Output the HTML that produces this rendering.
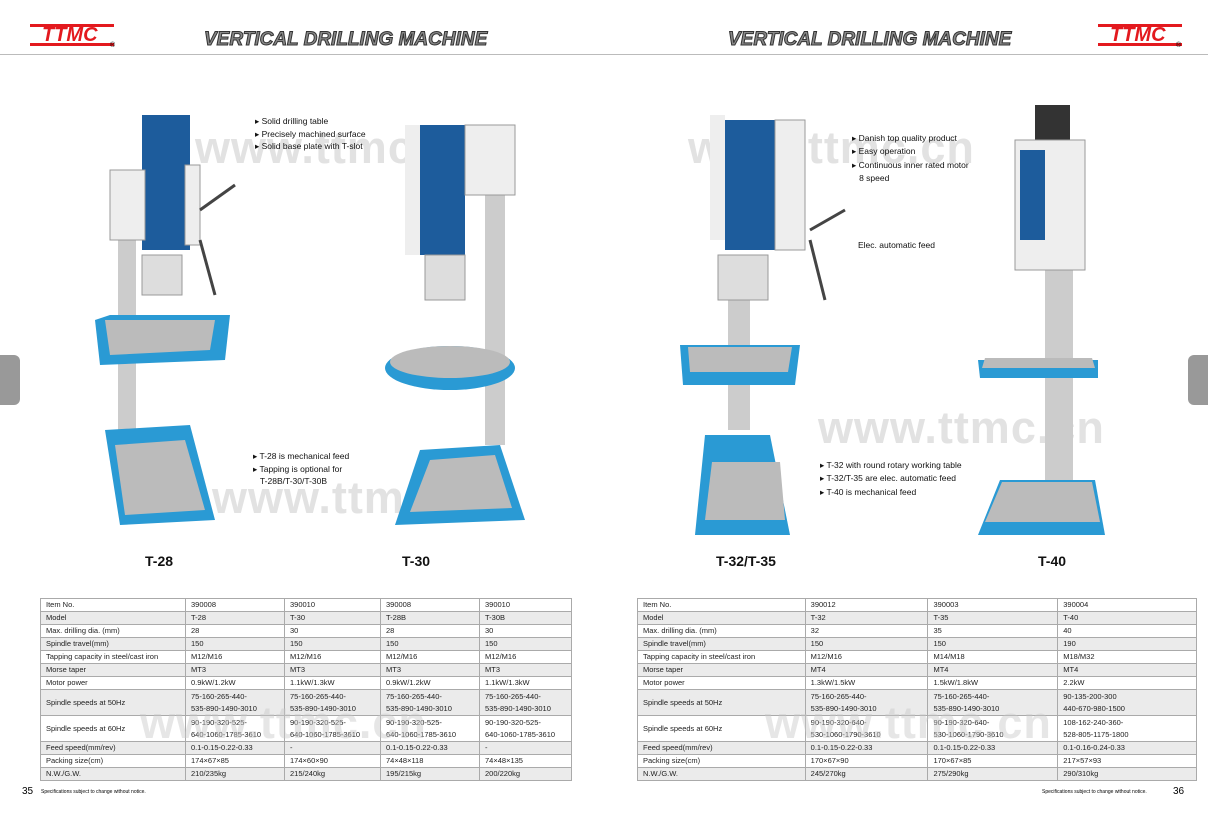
<!DOCTYPE html>
<html><head><meta charset="utf-8"><style>
body{margin:0;width:1208px;height:825px;background:#fff;position:relative;overflow:hidden;font-family:"Liberation Sans",sans-serif;}
.a{position:absolute}
.logo{position:absolute;font:italic 900 20px "Liberation Sans",sans-serif;color:#e3191e;letter-spacing:0px}
.bar{position:absolute;height:3px;background:#e3191e}
.title{position:absolute;font:italic 900 19px "Liberation Sans",sans-serif;color:#888;-webkit-text-stroke:1px #333;letter-spacing:0px}
.wm{position:absolute;font:bold 45px "Liberation Sans",sans-serif;color:#e2e2e2;letter-spacing:1px}
.note{position:absolute;font-size:8.5px;color:#111;line-height:12.5px}
.lbl{position:absolute;font:bold 14px "Liberation Sans",sans-serif;color:#111}
table{position:absolute;border-collapse:collapse;font-size:7.5px;color:#222}
td{border:1px solid #aaa;padding:0 5px;height:12px;line-height:12px;vertical-align:middle}
tr:nth-child(even) td{background:#ebebeb}
.d td{height:25px}
</style></head><body>
<div class="bar" style="left:30px;top:24px;width:84px"></div>
<div class="logo" style="left:42px;top:24px">TTMC</div>
<div class="bar" style="left:30px;top:43px;width:84px"></div>
<div class="a" style="left:110px;top:42px;font-size:7px">®</div>
<div class="title" style="left:204px;top:29px">VERTICAL DRILLING MACHINE</div>
<div class="title" style="left:728px;top:29px">VERTICAL DRILLING MACHINE</div>
<div class="bar" style="left:1098px;top:24px;width:84px"></div>
<div class="logo" style="left:1110px;top:24px">TTMC</div>
<div class="bar" style="left:1098px;top:43px;width:84px"></div>
<div class="a" style="left:1176px;top:42px;font-size:7px">®</div>
<div class="a" style="left:0;top:54px;width:1208px;height:1px;background:#bbb"></div>
<div class="a" style="left:0;top:355px;width:20px;height:50px;background:#999;border-radius:0 6px 6px 0"></div>
<div class="a" style="left:1188px;top:355px;width:20px;height:50px;background:#999;border-radius:6px 0 0 6px"></div>
<div class="wm" style="left:195px;top:122px">www.ttmc.cn</div>
<div class="wm" style="left:688px;top:122px">www.ttmc.cn</div>
<div class="wm" style="left:818px;top:402px">www.ttmc.cn</div>
<div class="wm" style="left:212px;top:472px">www.ttmc.cn</div>
<svg class="a" style="left:0;top:0" width="1208" height="580">
<rect x="118" y="240" width="18" height="200" fill="#ccc"/>
<rect x="142" y="115" width="48" height="135" fill="#1d5c9c"/>
<rect x="110" y="170" width="35" height="70" fill="#eee" stroke="#999"/>
<rect x="185" y="165" width="15" height="80" fill="#eee" stroke="#999"/>
<rect x="142" y="255" width="40" height="40" fill="#ddd" stroke="#999"/>
<polygon points="95,320 110,315 230,315 225,360 100,365" fill="#2a9ad4"/>
<polygon points="105,320 215,320 210,350 110,355" fill="#bbb"/>
<polygon points="105,430 190,425 215,520 120,525" fill="#2a9ad4"/>
<polygon points="115,445 185,440 205,510 125,515" fill="#bbb"/>
<line x1="200" y1="210" x2="235" y2="185" stroke="#444" stroke-width="3"/>
<line x1="200" y1="240" x2="215" y2="295" stroke="#444" stroke-width="3"/>
<rect x="485" y="185" width="20" height="260" fill="#ccc"/>
<rect x="420" y="125" width="45" height="130" fill="#1d5c9c"/>
<rect x="405" y="125" width="15" height="130" fill="#eee"/>
<rect x="465" y="125" width="50" height="70" fill="#eee" stroke="#999"/>
<rect x="425" y="255" width="40" height="45" fill="#ddd" stroke="#999"/>
<ellipse cx="450" cy="368" rx="65" ry="22" fill="#2a9ad4"/>
<ellipse cx="450" cy="362" rx="60" ry="16" fill="#bbb"/>
<polygon points="420,450 500,445 525,520 395,525" fill="#2a9ad4"/>
<polygon points="430,460 495,455 512,508 410,512" fill="#bbb"/>
<rect x="728" y="290" width="22" height="140" fill="#ccc"/>
<rect x="725" y="120" width="50" height="130" fill="#1d5c9c"/>
<rect x="710" y="115" width="15" height="125" fill="#eee"/>
<rect x="775" y="120" width="30" height="130" fill="#eee" stroke="#999"/>
<rect x="718" y="255" width="50" height="45" fill="#ddd" stroke="#999"/>
<polygon points="680,345 800,345 795,385 683,385" fill="#2a9ad4"/>
<polygon points="688,347 792,347 788,372 690,372" fill="#bbb"/>
<polygon points="705,435 770,435 790,535 695,535" fill="#2a9ad4"/>
<polygon points="712,462 780,462 785,520 705,520" fill="#bbb"/>
<line x1="810" y1="230" x2="845" y2="210" stroke="#444" stroke-width="3"/>
<line x1="810" y1="240" x2="825" y2="300" stroke="#444" stroke-width="3"/>
<rect x="1035" y="105" width="35" height="35" fill="#333"/>
<rect x="1045" y="250" width="28" height="230" fill="#ccc"/>
<rect x="1015" y="140" width="70" height="130" fill="#eee" stroke="#999"/>
<rect x="1020" y="150" width="25" height="90" fill="#1d5c9c"/>
<polygon points="978,360 1098,360 1098,378 980,378" fill="#2a9ad4"/>
<polygon points="985,358 1092,358 1095,368 982,368" fill="#bbb"/>
<polygon points="1000,480 1095,480 1105,535 978,535" fill="#2a9ad4"/>
<polygon points="1002,482 1092,482 1100,522 985,522" fill="#bbb"/>
</svg>
<div class="note" style="left:255px;top:115px">▸ Solid drilling table<br>▸ Precisely machined surface<br>▸ Solid base plate with T-slot</div>
<div class="note" style="left:253px;top:450px">▸ T-28 is mechanical feed<br>▸ Tapping is optional for<br>&nbsp;&nbsp; T-28B/T-30/T-30B</div>
<div class="note" style="left:852px;top:132px;line-height:13.3px">▸ Danish top quality product<br>▸ Easy operation<br>▸ Continuous inner rated motor<br>&nbsp;&nbsp; 8 speed</div>
<div class="note" style="left:858px;top:239px">Elec. automatic feed</div>
<div class="note" style="left:820px;top:459px;line-height:13.3px">▸ T-32 with round rotary working table<br>▸ T-32/T-35 are elec. automatic feed<br>▸ T-40 is mechanical feed</div>
<div class="lbl" style="left:145px;top:553px">T-28</div>
<div class="lbl" style="left:402px;top:553px">T-30</div>
<div class="lbl" style="left:716px;top:553px">T-32/T-35</div>
<div class="lbl" style="left:1038px;top:553px">T-40</div>
<table style="left:40px;top:598px;width:532px">
<colgroup><col style="width:145px"><col style="width:99px"><col style="width:96px"><col style="width:99px"><col style="width:92px"></colgroup>
<tr><td>Item No.</td><td>390008</td><td>390010</td><td>390008</td><td>390010</td></tr>
<tr><td>Model</td><td>T-28</td><td>T-30</td><td>T-28B</td><td>T-30B</td></tr>
<tr><td>Max. drilling dia. (mm)</td><td>28</td><td>30</td><td>28</td><td>30</td></tr>
<tr><td>Spindle travel(mm)</td><td>150</td><td>150</td><td>150</td><td>150</td></tr>
<tr><td>Tapping capacity in steel/cast iron</td><td>M12/M16</td><td>M12/M16</td><td>M12/M16</td><td>M12/M16</td></tr>
<tr><td>Morse taper</td><td>MT3</td><td>MT3</td><td>MT3</td><td>MT3</td></tr>
<tr><td>Motor power</td><td>0.9kW/1.2kW</td><td>1.1kW/1.3kW</td><td>0.9kW/1.2kW</td><td>1.1kW/1.3kW</td></tr>
<tr class="d"><td>Spindle speeds at 50Hz</td><td>75-160-265-440-<br>535-890-1490-3010</td><td>75-160-265-440-<br>535-890-1490-3010</td><td>75-160-265-440-<br>535-890-1490-3010</td><td>75-160-265-440-<br>535-890-1490-3010</td></tr>
<tr class="d"><td>Spindle speeds at 60Hz</td><td>90-190-320-525-<br>640-1060-1785-3610</td><td>90-190-320-525-<br>640-1060-1785-3610</td><td>90-190-320-525-<br>640-1060-1785-3610</td><td>90-190-320-525-<br>640-1060-1785-3610</td></tr>
<tr><td>Feed speed(mm/rev)</td><td>0.1-0.15-0.22-0.33</td><td>-</td><td>0.1-0.15-0.22-0.33</td><td>-</td></tr>
<tr><td>Packing size(cm)</td><td>174×67×85</td><td>174×60×90</td><td>74×48×118</td><td>74×48×135</td></tr>
<tr><td>N.W./G.W.</td><td>210/235kg</td><td>215/240kg</td><td>195/215kg</td><td>200/220kg</td></tr>
</table>
<table style="left:637px;top:598px;width:560px">
<colgroup><col style="width:168px"><col style="width:123px"><col style="width:130px"><col style="width:139px"></colgroup>
<tr><td>Item No.</td><td>390012</td><td>390003</td><td>390004</td></tr>
<tr><td>Model</td><td>T-32</td><td>T-35</td><td>T-40</td></tr>
<tr><td>Max. drilling dia. (mm)</td><td>32</td><td>35</td><td>40</td></tr>
<tr><td>Spindle travel(mm)</td><td>150</td><td>150</td><td>190</td></tr>
<tr><td>Tapping capacity in steel/cast iron</td><td>M12/M16</td><td>M14/M18</td><td>M18/M32</td></tr>
<tr><td>Morse taper</td><td>MT4</td><td>MT4</td><td>MT4</td></tr>
<tr><td>Motor power</td><td>1.3kW/1.5kW</td><td>1.5kW/1.8kW</td><td>2.2kW</td></tr>
<tr class="d"><td>Spindle speeds at 50Hz</td><td>75-160-265-440-<br>535-890-1490-3010</td><td>75-160-265-440-<br>535-890-1490-3010</td><td>90-135-200-300<br>440-670-980-1500</td></tr>
<tr class="d"><td>Spindle speeds at 60Hz</td><td>90-190-320-640-<br>530-1060-1790-3610</td><td>90-190-320-640-<br>530-1060-1790-3610</td><td>108-162-240-360-<br>528-805-1175-1800</td></tr>
<tr><td>Feed speed(mm/rev)</td><td>0.1-0.15-0.22-0.33</td><td>0.1-0.15-0.22-0.33</td><td>0.1-0.16-0.24-0.33</td></tr>
<tr><td>Packing size(cm)</td><td>170×67×90</td><td>170×67×85</td><td>217×57×93</td></tr>
<tr><td>N.W./G.W.</td><td>245/270kg</td><td>275/290kg</td><td>290/310kg</td></tr>
</table>
<div class="wm" style="left:140px;top:697px;color:rgba(200,200,200,0.45)">www.ttmc.cn</div>
<div class="wm" style="left:765px;top:697px;color:rgba(200,200,200,0.45)">www.ttmc.cn</div>
<div class="a" style="left:22px;top:786px;font-size:10px">35</div>
<div class="a" style="left:41px;top:789px;font-size:5px">Specifications subject to change without notice.</div>
<div class="a" style="left:1042px;top:789px;font-size:5px">Specifications subject to change without notice.</div>
<div class="a" style="left:1173px;top:786px;font-size:10px">36</div>
</body></html>
